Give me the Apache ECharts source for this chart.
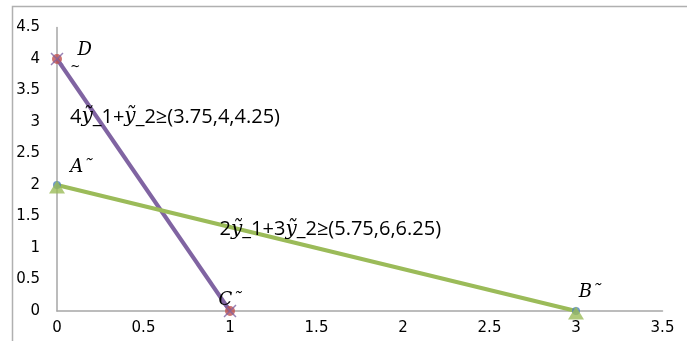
<!DOCTYPE html>
<html>
<head>
<meta charset="utf-8">
<script src="https://cdn.jsdelivr.net/npm/echarts@6/dist/echarts.min.js"></script>
<style>
  html, body { margin: 0; padding: 0; background: #fff; }
  #chart { width: 687px; height: 341px; }
</style>
</head>
<body>
<div id="chart"></div>
<script>
// Constraint lines of the fuzzy LP, each drawn between its two axis intercepts
const lineDC = [[0, 4], [1, 0]];   // 4y1 + y2 >= (3.75,4,4.25): D -> C
const lineAB = [[0, 2], [3, 0]];   // 2y1 + 3y2 >= (5.75,6,6.25): A -> B
const xTicks = [0, 0.5, 1, 1.5, 2, 2.5, 3, 3.5];
const yTicks = [0, 0.5, 1, 1.5, 2, 2.5, 3, 3.5, 4, 4.5];

const PURPLE = '#8064A2';
const GREEN = '#9BBB59';
const CROSS = 'path://M0,0 L10,10 M10,0 L0,10';

const chart = echarts.init(document.getElementById('chart'));

const rich = {
  i: { fontFamily: 'DejaVu Serif', fontStyle: 'italic', fontSize: 20, color: '#000' },
  n: { fontFamily: 'Open Sans', fontSize: 20, color: '#000' }
};
function eq(parts) {
  return parts.map(p => p === 'y' ? '{i|ỹ}' : '{n|' + p + '}').join('');
}

function pointLabel(coord, text, size) {
  return {
    coord: coord,
    symbolSize: 0,
    label: {
      show: true, position: 'inside', formatter: text,
      fontFamily: 'DejaVu Serif', fontStyle: 'italic', fontSize: size || 18, color: '#000'
    }
  };
}

chart.setOption({
  animation: false,
  backgroundColor: '#fff',
  grid: { left: 57, right: 24.5, top: 27.5, bottom: 30, containLabel: false },
  xAxis: {
    type: 'value', min: xTicks[0], max: xTicks[xTicks.length - 1], interval: 0.5,
    axisLine: { show: true, lineStyle: { color: '#a6a6a6', width: 1.5 } },
    axisTick: { show: false },
    splitLine: { show: false },
    axisLabel: { margin: 10, fontFamily: 'DejaVu Sans', fontSize: 15, color: '#000' }
  },
  yAxis: {
    type: 'value', min: yTicks[0], max: yTicks[yTicks.length - 1], interval: 0.5,
    axisLine: { show: true, lineStyle: { color: '#a6a6a6', width: 1.5 } },
    axisTick: { show: false },
    splitLine: { show: false },
    axisLabel: { margin: 17, fontFamily: 'DejaVu Sans', fontSize: 15, color: '#000' }
  },
  graphic: [{
    type: 'rect', silent: true,
    shape: { x: 12.5, y: 6.5, width: 700, height: 360 },
    style: { fill: 'none', stroke: '#b0b0b0', lineWidth: 1.5 }
  }],
  series: [
    {
      type: 'line', data: lineDC, symbol: 'none', z: 2,
      lineStyle: { color: PURPLE, width: 4 }
    },
    {
      type: 'line', data: lineAB, symbol: 'none', z: 3,
      lineStyle: { color: GREEN, width: 4 }
    },
    // vertex markers: D and C
    {
      type: 'scatter', data: lineDC, symbol: 'circle', symbolSize: 10, z: 4,
      itemStyle: { color: '#C0504D' }
    },
    {
      type: 'scatter', data: lineDC, symbol: CROSS, symbolSize: 12, z: 5,
      itemStyle: { color: 'none', borderColor: PURPLE, borderWidth: 1.5 }
    },
    // vertex markers: A and B
    {
      type: 'scatter', data: lineAB, symbol: 'circle', symbolSize: 8, z: 4,
      itemStyle: { color: '#4F81BD' }
    },
    {
      type: 'scatter', data: lineAB, symbol: 'triangle', symbolSize: [16, 13], symbolOffset: [0, 2], z: 5,
      itemStyle: { color: GREEN }
    },
    // annotations
    {
      type: 'scatter', data: [], silent: true,
      markPoint: {
        symbol: 'circle', symbolSize: 0, silent: true,
        data: [
          { coord: [0.075, 3.08], symbolSize: 0,
            label: { show: true, position: 'right', offset: [-5, 0], formatter: eq(['4', 'y', '_1+', 'y', '_2≥(3.75,4,4.25)']), rich: rich } },
          { coord: [0.94, 1.29], symbolSize: 0,
            label: { show: true, position: 'right', offset: [-5, 0], formatter: eq(['2', 'y', '_1+3', 'y', '_2≥(5.75,6,6.25)']), rich: rich } },
          pointLabel([0.16, 4.14], 'D'),
          pointLabel([0.105, 3.87], '~', 12),
          pointLabel([0.14, 2.28], 'A˜'),
          pointLabel([3.08, 0.3], 'B˜'),
          pointLabel([1.0, 0.17], 'C˜')
        ]
      }
    }
  ]
});
</script>
</body>
</html>
